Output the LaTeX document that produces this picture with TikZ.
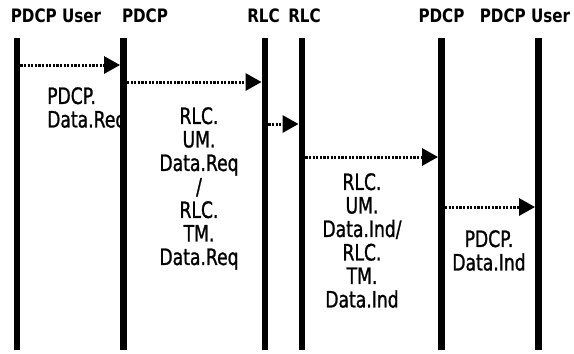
\documentclass[tikz,border=0pt]{standalone}
\usepackage{fontspec}
\setmainfont{DejaVu Sans}
\newfontfamily\lblfont{DejaVu Sans}[FakeStretch=0.76, FakeBold=1]
\newfontfamily\hdfont{DejaVu Sans Bold}[FakeStretch=0.82]
\usetikzlibrary{arrows.meta}

\begin{document}
\begin{tikzpicture}[
	x=1pt, y=-1pt,
	head/.style={anchor=base, inner sep=0pt, font=\hdfont\fontsize{18.5}{22}\selectfont},
	life/.style={fill=black, inner sep=0pt, minimum width=6.5pt, minimum height=312pt},
	msg/.style={line width=3pt, dash pattern=on 2.2pt off 1.4pt, -{Triangle[length=16pt,width=17pt]}},
	lbl/.style={anchor=north, inner sep=0pt, align=center, font=\lblfont\fontsize{22.6}{23.5}\selectfont},
	]
\useasboundingbox (0,0) rectangle (574,354);
% layer names
\node [head] (hu1) at (56,22) {PDCP User};
\node [head] (hp1) at (145,22) {PDCP};
\node [head] (hr1) at (263.5,22) {RLC};
\node [head] (hr2) at (304.5,22) {RLC};
\node [head] (hp2) at (441.5,22) {PDCP};
\node [head] (hu2) at (525,22) {PDCP User};
% primitives
\node [lbl, anchor=north west, align=left] (t1) at (47,87) {PDCP.\\Data.Req};
\node [lbl] (t2) at (199,107) {RLC.\\UM.\\Data.Req\\/\\RLC.\\TM.\\Data.Req};
\node [lbl] (t3) at (362,173) {RLC.\\UM.\\Data.Ind/\\RLC.\\TM.\\Data.Ind};
\node [lbl] (t4) at (489,230) {PDCP.\\Data.Ind};
% lifelines
\node [life] (l1) at (17,194) {};
\node [life] (l2) at (123.5,194) {};
\node [life] (l3) at (265,194) {};
\node [life] (l4) at (302,194) {};
\node [life] (l5) at (441.5,194) {};
\node [life] (l6) at (538.5,194) {};
% messages
\draw [msg] (l1.east |- 0,65) -- (l2.west |- 0,65);
\draw [msg] (l2.east |- 0,82) -- (l3.west |- 0,82);
\draw [msg] (l3.east |- 0,124) -- (l4.west |- 0,124);
\draw [msg] (l4.east |- 0,157) -- (l5.west |- 0,157);
\draw [msg] (l5.east |- 0,207) -- (l6.west |- 0,207);
\end{tikzpicture}
\end{document}
